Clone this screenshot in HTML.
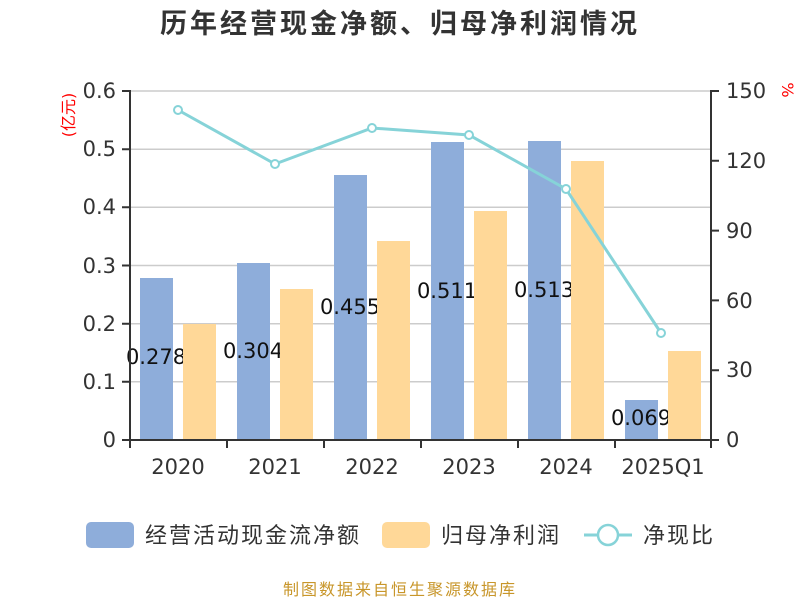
<!DOCTYPE html>
<html><head><meta charset="utf-8"><style>body{margin:0;background:#fff}svg{display:block}text{font-family:"DejaVu Sans","Noto Sans CJK SC",sans-serif}</style></head><body>
<svg width="800" height="600" xmlns="http://www.w3.org/2000/svg">
<text x="400" y="33" text-anchor="middle" font-size="27" font-weight="bold" fill="#333" letter-spacing="3" font-family="Noto Sans CJK SC, sans-serif">历年经营现金净额、归母净利润情况</text>
<g stroke="#ccc" stroke-width="1.5">
<line x1="130" x2="711" y1="91" y2="91"/><line x1="130" x2="711" y1="149.2" y2="149.2"/><line x1="130" x2="711" y1="207.3" y2="207.3"/><line x1="130" x2="711" y1="265.5" y2="265.5"/><line x1="130" x2="711" y1="323.7" y2="323.7"/><line x1="130" x2="711" y1="381.8" y2="381.8"/>
</g>
<g fill="#8eadda">
<rect x="140" y="278" width="33" height="162"/>
<rect x="237" y="263" width="33" height="177"/>
<rect x="334" y="175" width="33" height="265"/>
<rect x="431" y="142" width="33" height="298"/>
<rect x="528" y="141" width="33" height="299"/>
<rect x="625" y="400" width="33" height="40"/>
</g>
<g font-size="21" fill="#111" text-anchor="middle">
<text x="156" y="364">0.278</text><text x="253" y="358">0.304</text><text x="350" y="314">0.455</text><text x="447" y="298">0.511</text><text x="544" y="297">0.513</text><text x="641" y="425">0.069</text>
</g>
<g fill="#ffd898">
<rect x="183" y="324" width="33" height="116"/>
<rect x="280" y="289" width="33" height="151"/>
<rect x="377" y="241" width="33" height="199"/>
<rect x="474" y="211" width="33" height="229"/>
<rect x="571" y="161" width="33" height="279"/>
<rect x="668" y="351" width="33" height="89"/>
</g>
<g stroke="#333" stroke-width="2" fill="none">
<line x1="130" y1="90" x2="130" y2="441"/><line x1="711" y1="90" x2="711" y2="441"/><line x1="130" y1="440" x2="711" y2="440"/>
<path d="M122 91H130M122 149.2H130M122 207.3H130M122 265.5H130M122 323.7H130M122 381.8H130M122 440H130"/>
<path d="M711 91H719M711 160.8H719M711 230.6H719M711 300.4H719M711 370.2H719M711 440H719"/>
<path d="M130 440V448M227 440V448M324 440V448M421 440V448M518 440V448M615 440V448M711 440V448"/>
</g>
<g font-size="21" fill="#333" text-anchor="end">
<text x="116" y="98">0.6</text><text x="116" y="156">0.5</text><text x="116" y="214">0.4</text><text x="116" y="273">0.3</text><text x="116" y="331">0.2</text><text x="116" y="389">0.1</text><text x="116" y="447">0</text>
</g>
<g font-size="21" fill="#333">
<text x="726" y="98">150</text><text x="726" y="168">120</text><text x="726" y="238">90</text><text x="726" y="308">60</text><text x="726" y="377">30</text><text x="726" y="447">0</text>
</g>
<g font-size="21" fill="#333" text-anchor="middle">
<text x="178" y="474">2020</text><text x="275" y="474">2021</text><text x="372" y="474">2022</text><text x="469" y="474">2023</text><text x="566" y="474">2024</text><text x="663" y="474">2025Q1</text>
</g>
<text transform="translate(74,115) rotate(-90)" font-size="16" fill="red" text-anchor="middle">(亿元)</text>
<text transform="translate(782,90) rotate(90)" font-size="16" fill="red" text-anchor="middle">%</text>
<polyline points="178,110 275,164 372,128 469,135 566,189 661,333" fill="none" stroke="#86d3d8" stroke-width="3"/>
<g fill="#fff" stroke="#86d3d8" stroke-width="2">
<circle cx="178" cy="110" r="4"/><circle cx="275" cy="164" r="4"/><circle cx="372" cy="128" r="4"/><circle cx="469" cy="135" r="4"/><circle cx="566" cy="189" r="4"/><circle cx="661" cy="333" r="4"/>
</g>
<rect x="86" y="522" width="48" height="26" rx="5" fill="#8eadda"/>
<text x="145" y="543" font-size="22" fill="#333" letter-spacing="2">经营活动现金流净额</text>
<rect x="382" y="522" width="48" height="26" rx="5" fill="#ffd898"/>
<text x="441" y="543" font-size="22" fill="#333" letter-spacing="2">归母净利润</text>
<line x1="584" y1="535" x2="632" y2="535" stroke="#86d3d8" stroke-width="3"/>
<circle cx="608" cy="535" r="10" fill="#fff" stroke="#86d3d8" stroke-width="2.5"/>
<text x="643" y="543" font-size="22" fill="#333" letter-spacing="2">净现比</text>
<text x="400" y="595" font-size="16" fill="#c8962a" text-anchor="middle" letter-spacing="2">制图数据来自恒生聚源数据库</text>
</svg>
</body></html>
